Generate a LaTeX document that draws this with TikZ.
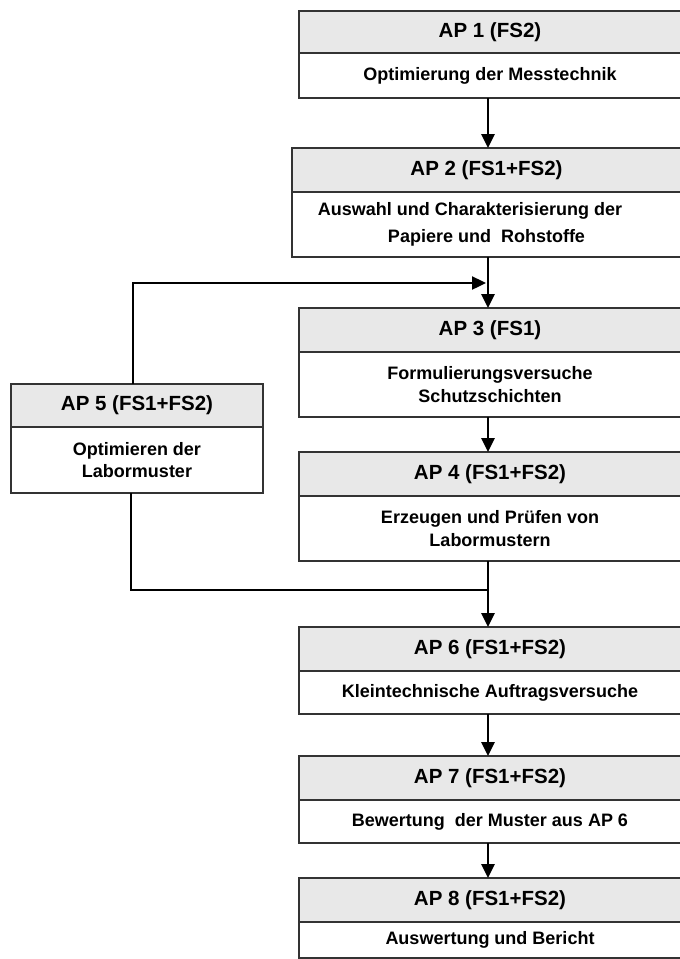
\documentclass[tikz,border=0pt]{standalone}
\usepackage{fontspec}
\setmainfont{Liberation Sans}
\usetikzlibrary{arrows.meta,calc}
\begin{document}
\begin{tikzpicture}[x=1pt,y=-1pt]
\tikzset{
 box/.style={draw=black!80, line width=1.1pt, anchor=north west, inner sep=0pt, outer sep=0pt, align=center},
 hdr/.style={box, fill=black!9, font=\fontsize{20.5}{24}\selectfont\bfseries},
 bdy/.style={box, fill=white, font=\fontsize{18}{22.5}\selectfont\bfseries},
 tip/.style={-{Triangle[width=13pt,length=14pt]}},
 arr/.style={line width=2.8pt, tip},
 fbtop/.style={line width=2.4pt, tip},
 fbbot/.style={line width=1.5pt},
}
\useasboundingbox (0,0) rectangle (680,959);
\fill[white] (0,0) rectangle (680,959);

% AP 1
\node[hdr, minimum width=382pt, minimum height=42pt] (h1) at (299,11) {AP 1 (FS2)};
\node[bdy, minimum width=382pt, minimum height=45pt] (b1) at (299,53) {Optimierung der Messtechnik};
% AP 2
\node[hdr, minimum width=389pt, minimum height=44pt] (h2) at (292,148) {AP 2 (FS1+FS2)};
\node[bdy, minimum width=389pt, minimum height=65pt] (b2) at (292,192) {Auswahl und Charakterisierung der\hspace*{33pt}\mbox{}\\[4.5pt]Papiere und\ \ Rohstoffe};
% AP 3
\node[hdr, minimum width=382pt, minimum height=44pt] (h3) at (299,308) {AP 3 (FS1)};
\node[bdy, minimum width=382pt, minimum height=65pt] (b3) at (299,352) {Formulierungsversuche\\Schutzschichten};
% AP 4
\node[hdr, minimum width=382pt, minimum height=44pt] (h4) at (299,452) {AP 4 (FS1+FS2)};
\node[bdy, minimum width=382pt, minimum height=65pt] (b4) at (299,496) {Erzeugen und Prüfen von\\Labormustern};
% AP 5
\node[hdr, minimum width=252pt, minimum height=43pt] (h5) at (11,384) {AP 5 (FS1+FS2)};
\node[bdy, minimum width=252pt, minimum height=66pt] (b5) at (11,427) {Optimieren der\\Labormuster};
% AP 6
\node[hdr, minimum width=382pt, minimum height=44pt] (h6) at (299,627) {AP 6 (FS1+FS2)};
\node[bdy, minimum width=382pt, minimum height=43pt] (b6) at (299,671) {Kleintechnische Auftragsversuche};
% AP 7
\node[hdr, minimum width=382pt, minimum height=44pt] (h7) at (299,756) {AP 7 (FS1+FS2)};
\node[bdy, minimum width=382pt, minimum height=43pt] (b7) at (299,800) {Bewertung\ \ der Muster aus AP 6};
% AP 8
\node[hdr, minimum width=382pt, minimum height=44pt] (h8) at (299,878) {AP 8 (FS1+FS2)};
\node[bdy, minimum width=382pt, minimum height=36pt] (b8) at (299,922) {Auswertung und Bericht};

% connectors
\coordinate (ax) at (488,0);
\draw[arr] (b1.south -| ax) -- (h2.north -| ax);
\draw[arr] (b2.south -| ax) -- (h3.north -| ax);
\draw[arr] (b3.south -| ax) -- (h4.north -| ax);
\draw[arr] (b4.south -| ax) -- (h6.north -| ax);
\draw[arr] (b6.south -| ax) -- (h7.north -| ax);
\draw[arr] (b7.south -| ax) -- (h8.north -| ax);

\coordinate (j1) at (486,283);
\draw[fbtop] ([xshift=-4pt]h5.north) |- (j1);
\coordinate (j2) at (488,590);
\draw[fbbot] ([xshift=-6pt]b5.south) |- (j2);
\end{tikzpicture}
\end{document}
